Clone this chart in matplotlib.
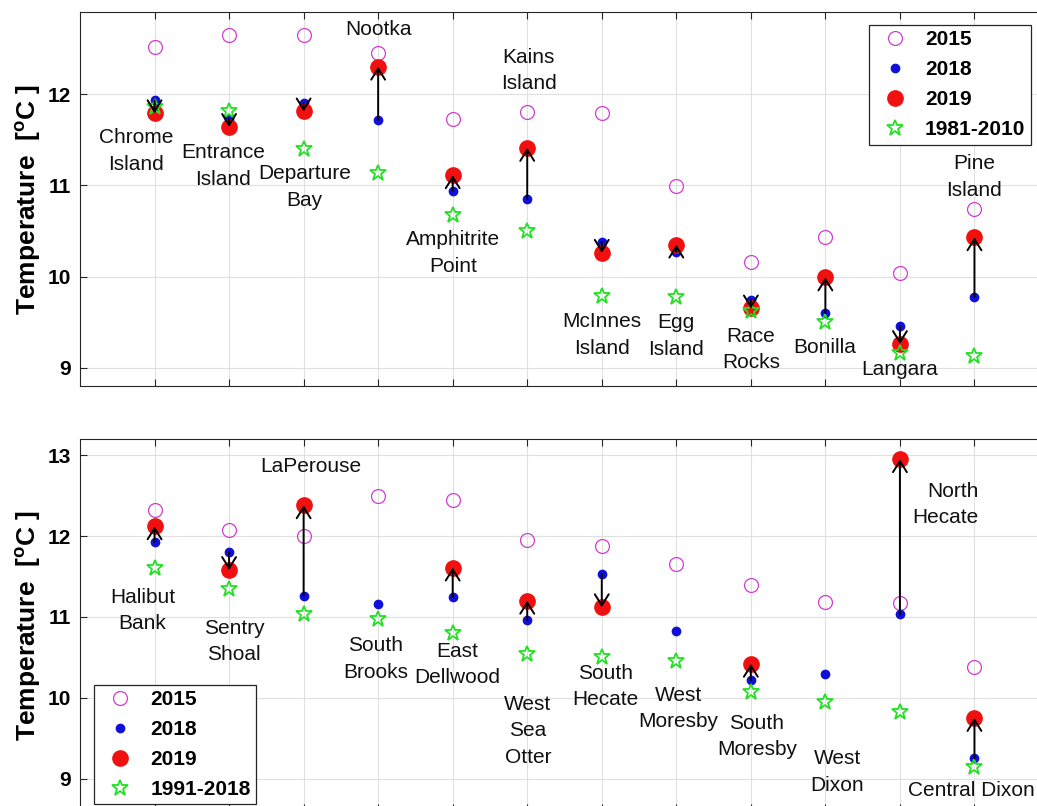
import numpy as np
import matplotlib
matplotlib.use('Agg')
import matplotlib.pyplot as plt

plt.rcParams['font.family'] = ['Liberation Sans', 'DejaVu Sans']
plt.rcParams['mathtext.fontset'] = 'custom'
plt.rcParams['mathtext.rm'] = 'Liberation Sans'
plt.rcParams['mathtext.bf'] = 'Liberation Sans:bold'
plt.rcParams['mathtext.it'] = 'Liberation Sans:italic'

nan = np.nan

# ---------------- data: top panel (lighthouse stations) ----------------
stations_top = ["Chrome\nIsland", "Entrance\nIsland", "Departure\nBay", "Nootka",
                "Amphitrite\nPoint", "Kains\nIsland", "McInnes\nIsland", "Egg\nIsland",
                "Race\nRocks", "Bonilla", "Langara", "Pine\nIsland"]
top_2015 = [12.52, 12.65, 12.65, 12.45, 11.73, 11.80, 11.79, 10.99, 10.16, 10.43, 10.04, 10.74]
top_2018 = [11.93, 11.73, 11.90, 11.72, 10.94, 10.85, 10.38, 10.27, 9.74, 9.60, 9.46, 9.78]
top_2019 = [11.79, 11.64, 11.81, 12.30, 11.11, 11.41, 10.26, 10.35, 9.65, 9.99, 9.26, 10.43]
top_clim = [11.86, 11.82, 11.40, 11.14, 10.68, 10.50, 9.79, 9.78, 9.62, 9.50, 9.16, 9.13]
top_clim_label = "1981-2010"

# ---------------- data: bottom panel (buoy stations) ----------------
stations_bot = ["Halibut\nBank", "Sentry\nShoal", "LaPerouse", "South\nBrooks",
                "East\nDellwood", "West\nSea\nOtter", "South\nHecate", "West\nMoresby",
                "South\nMoresby", "West\nDixon", "North\nHecate", "Central Dixon"]
bot_2015 = [12.32, 12.08, 12.00, 12.49, 12.44, 11.95, 11.88, 11.65, 11.39, 11.19, 11.17, 10.38]
bot_2018 = [11.93, 11.80, 11.26, 11.16, 11.25, 10.96, 11.53, 10.83, 10.22, 10.29, 11.03, 9.25]
bot_2019 = [12.12, 11.58, 12.38, nan, 11.61, 11.20, 11.12, nan, 10.42, nan, 12.95, 9.75]
bot_clim = [11.61, 11.34, 11.04, 10.98, 10.80, 10.54, 10.51, 10.46, 10.07, 9.95, 9.82, 9.15]
bot_clim_label = "1991-2018"

yticks_top = [9, 10, 11, 12]
yticks_bot = [9, 10, 11, 12, 13]

# ---------------- layout (label positions, not data) ----------------
lab_top_x = [0.755, 1.92, 3.01, 4.0, 5.0, 6.02, 7.0, 8.0, 9.0, 9.99, 11.0, 12.0]
lab_top_y = [11.375, 11.213, 10.98, 12.71, 10.26, 12.26, 9.36, 9.35, 9.20, 9.22, 8.98, 11.09]
lab_bot_x = [0.84, 2.07, 3.09, 3.97, 5.06, 6.01, 7.05, 8.03, 9.08, 10.16, 12.05, 11.96]
lab_bot_y = [11.08, 10.695, 12.86, 10.48, 10.41, 9.59, 10.14, 9.87, 9.52, 9.08, 12.39, 8.85]
lab_bot_ha = ['center'] * 10 + ['right', 'center']

W, H = 1037, 806
fig = plt.figure(figsize=(W / 100, H / 100), dpi=100)

ax_left_px = 80
ax_width_px = 969
ax_top = fig.add_axes([ax_left_px / W, 1 - 386 / H, ax_width_px / W, (386 - 12) / H])
ax_bot = fig.add_axes([ax_left_px / W, 1 - 811 / H, ax_width_px / W, (811 - 439) / H])

C15 = '#d23cd2'
C18 = '#1010d8'
C19 = '#f01010'
CCL = '#22e022'


def draw(ax, names, v15, v18, v19, vcl, cl_label, ylim, yticks, lx, ly, lha, legend_loc, legend_anchor):
    x = np.arange(1, len(names) + 1)
    v15 = np.asarray(v15, float)
    v18 = np.asarray(v18, float)
    v19 = np.asarray(v19, float)
    vcl = np.asarray(vcl, float)
    ax.plot(x, v15, 'o', ms=10, mfc='none', mec=C15, mew=0.9, ls='none', label='2015', zorder=3)
    ax.plot(x, v18, 'o', ms=6, mfc=C18, mec=C18, ls='none', label='2018', zorder=3)
    ax.plot(x, v19, 'o', ms=11, mfc=C19, mec=C19, ls='none', label='2019', zorder=4)
    ax.plot(x, vcl, '*', ms=12, mfc='none', mec=CCL, mew=1.3, ls='none', label=cl_label, zorder=5)
    for xi, a, b in zip(x, v18, v19):
        if np.isfinite(a) and np.isfinite(b):
            ax.annotate('', xy=(xi, b), xytext=(xi, a),
                        arrowprops=dict(arrowstyle='->,head_length=0.8,head_width=0.5',
                                        color='k', lw=1.4, shrinkA=0, shrinkB=0),
                        zorder=6)
    for name, tx, ty, ha in zip(names, lx, ly, lha):
        ax.text(tx, ty, name, ha=ha, va='center', multialignment=ha,
                fontsize=15, color='#111111', linespacing=1.5, zorder=7)
    ax.set_xlim(0, 13)
    ax.set_ylim(*ylim)
    ax.set_xticks(x)
    ax.set_xticklabels([])
    ax.set_yticks(yticks)
    ax.set_yticklabels([str(t) for t in yticks], fontsize=15, fontweight='bold')
    ax.grid(True, color='#e0e0e0', lw=0.8)
    ax.set_axisbelow(True)
    ax.tick_params(direction='in', length=5, width=0.8, color='#262626',
                   top=True, right=True, bottom=True, left=True, pad=6.5)
    for s in ax.spines.values():
        s.set_color('#262626')
        s.set_linewidth(0.8)
    ax.set_ylabel('Temperature  [$^{\\mathbf{o}}$C ]', fontsize=19, fontweight='bold')
    ax.yaxis.set_label_coords(-0.038, 0.5)
    leg = ax.legend(loc=legend_loc, bbox_to_anchor=legend_anchor, borderaxespad=0,
                    prop={'size': 15, 'weight': 'bold'}, fancybox=False, framealpha=1,
                    edgecolor='#262626', handlelength=2.0, handletextpad=0.45,
                    labelspacing=0.53, borderpad=0.25, numpoints=1)
    leg.get_frame().set_linewidth(0.9)
    leg.set_zorder(10)


draw(ax_top, stations_top, top_2015, top_2018, top_2019, top_clim, top_clim_label,
     (8.8, 12.9), yticks_top, lab_top_x, lab_top_y, ['center'] * 12,
     'upper right', (0.981, 0.965))
draw(ax_bot, stations_bot, bot_2015, bot_2018, bot_2019, bot_clim, bot_clim_label,
     (8.6, 13.2), yticks_bot, lab_bot_x, lab_bot_y, lab_bot_ha,
     'lower left', (0.0148, 0.018))

fig.savefig('out.png', dpi=100)
